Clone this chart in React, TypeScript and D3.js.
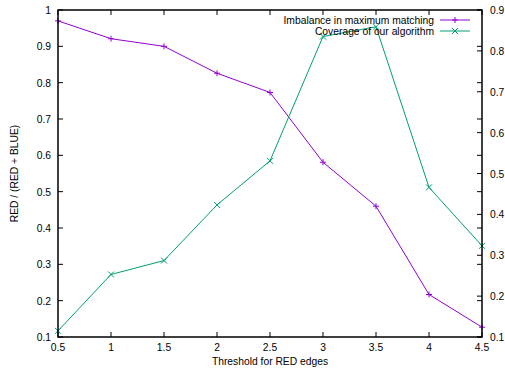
import React from 'react';
import * as d3 from 'd3';

const thresholds = [0.5, 1, 1.5, 2, 2.5, 3, 3.5, 4, 4.5];
const imbalance = [0.97, 0.921, 0.9, 0.826, 0.773, 0.581, 0.46, 0.217, 0.127];
const coverage = [0.115, 0.253, 0.287, 0.423, 0.531, 0.835, 0.859, 0.466, 0.323];
const xTicks = [0.5, 1, 1.5, 2, 2.5, 3, 3.5, 4, 4.5];
const yTicks = [0.1, 0.2, 0.3, 0.4, 0.5, 0.6, 0.7, 0.8, 0.9, 1];
const y2Ticks = [0.1, 0.2, 0.3, 0.4, 0.5, 0.6, 0.7, 0.8, 0.9];
const seriesNames = ['Imbalance in maximum matching', 'Coverage of our algorithm'];

const W = 505;
const H = 370;
const left = 58;
const right = 482;
const top = 10;
const bottom = 337;
const font = '"Liberation Sans", Arial, sans-serif';
const purple = '#9400d3';
const green = '#009e73';
const tick = 5;

export default function App() {
  const x = d3.scaleLinear().domain([0.5, 4.5]).range([left, right]);
  const y = d3.scaleLinear().domain([0.1, 1]).range([bottom, top]);
  const y2 = d3.scaleLinear().domain([0.1, 0.9]).range([bottom, top]);

  const line1 = d3.line<number>().x((_, i) => x(thresholds[i])).y(d => y(d));
  const line2 = d3.line<number>().x((_, i) => x(thresholds[i])).y(d => y2(d));
  const fmt = (v: number) => d3.format('')(+v.toFixed(1));

  const plus = (cx: number, cy: number, c: string, k: string) => (
    <path key={k} d={`M${cx - 3},${cy}H${cx + 3}M${cx},${cy - 3}V${cy + 3}`} stroke={c} strokeWidth={1} />
  );
  const cross = (cx: number, cy: number, c: string, k: string) => (
    <path key={k} d={`M${cx - 3},${cy - 3}L${cx + 3},${cy + 3}M${cx - 3},${cy + 3}L${cx + 3},${cy - 3}`} stroke={c} strokeWidth={1} />
  );

  return (
    <svg width={W} height={H} style={{ position: 'absolute', left: 0, top: 0, background: '#fff' }} fontFamily={font} fontSize={10.3}>
      {/* ticks */}
      <g stroke="#000" strokeWidth={1}>
        {xTicks.map(t => (
          <g key={'x' + t}>
            <line x1={x(t)} x2={x(t)} y1={bottom} y2={bottom - tick} />
            <line x1={x(t)} x2={x(t)} y1={top} y2={top + tick} />
          </g>
        ))}
        {yTicks.map(t => (
          <g key={'y' + t}>
            <line x1={left} x2={left + tick} y1={y(t)} y2={y(t)} />
            <line x1={right} x2={right - tick} y1={y(t)} y2={y(t)} />
          </g>
        ))}
        {y2Ticks.map(t => (
          <line key={'y2' + t} x1={right} x2={right - tick} y1={y2(t)} y2={y2(t)} />
        ))}
      </g>
      {xTicks.map(t => (
        <text key={'xl' + t} x={x(t)} y={bottom + 14} textAnchor="middle" fill="#000">{fmt(t)}</text>
      ))}
      {yTicks.map(t => (
        <text key={'yl' + t} x={left - 7} y={y(t) + 4} textAnchor="end" fill="#000">{fmt(t)}</text>
      ))}
      {y2Ticks.map(t => (
        <text key={'y2l' + t} x={right + 8} y={y2(t) + 4} textAnchor="start" fill="#000">{fmt(t)}</text>
      ))}
      <text x={(left + right) / 2} y={365} textAnchor="middle" fill="#000">Threshold for RED edges</text>
      <text transform={`translate(18,${(top + bottom) / 2}) rotate(-90)`} textAnchor="middle" fill="#000">RED / (RED + BLUE)</text>

      {/* series */}
      <path d={line1(imbalance) ?? ''} fill="none" stroke={purple} strokeWidth={1} />
      {imbalance.map((v, i) => plus(x(thresholds[i]), y(v), purple, 'p' + i))}
      <path d={line2(coverage) ?? ''} fill="none" stroke={green} strokeWidth={1} />
      {coverage.map((v, i) => cross(x(thresholds[i]), y2(v), green, 'c' + i))}

      {/* legend */}
      <text x={434} y={24} textAnchor="end" fill="#000">{seriesNames[0]}</text>
      <line x1={440} x2={470} y1={20} y2={20} stroke={purple} />
      {plus(455, 20, purple, 'lp')}
      <text x={434} y={35} textAnchor="end" fill="#000">{seriesNames[1]}</text>
      <line x1={440} x2={470} y1={31} y2={31} stroke={green} />
      {cross(455, 31, green, 'lc')}

      <rect x={left} y={top} width={right - left} height={bottom - top} fill="none" stroke="#000" strokeWidth={1.5} />
    </svg>
  );
}
